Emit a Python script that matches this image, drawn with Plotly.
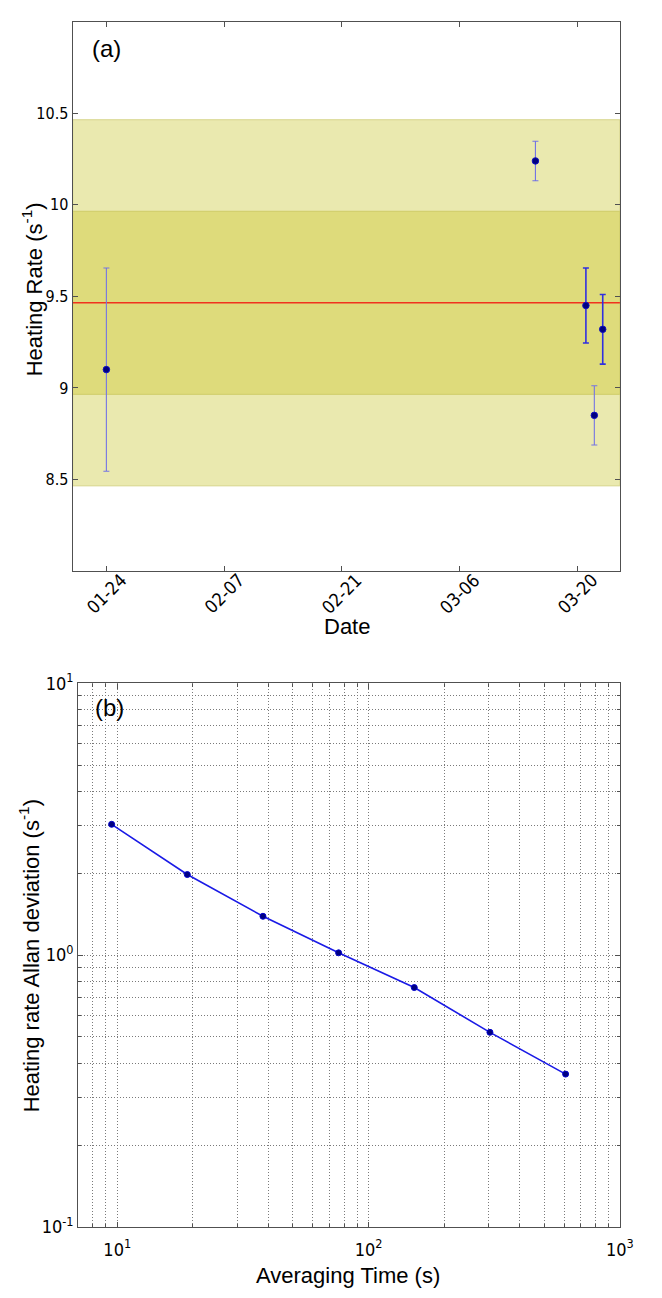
import numpy as np
import plotly.graph_objects as go

# ---- panel (a): heating rate measured on different days ----
meas_dates = ["2012-01-24", "2012-03-15", "2012-03-21", "2012-03-22", "2012-03-23"]
heating_rate = [9.10, 10.24, 9.45, 8.85, 9.32]
heating_err = [0.555, 0.108, 0.205, 0.162, 0.190]
mean_rate = 9.465
band_inner = 0.5
band_outer = 1.0
date_ticks = ["2012-01-24", "2012-02-07", "2012-02-21", "2012-03-06", "2012-03-20"]
date_labels = ["01-24", "02-07", "02-21", "03-06", "03-20"]
rate_ticks = [8.5, 9, 9.5, 10, 10.5]
rate_tick_text = ["8.5", "9", "9.5", "10", "10.5"]

# ---- panel (b): Allan deviation of the heating rate ----
avg_time = [9.5, 19, 38, 76, 152, 304, 608]
allan_dev = [3.03, 1.98, 1.39, 1.02, 0.76, 0.52, 0.365]
time_decades = [1, 2, 3]
dev_decades = [-1, 0, 1]

# darker, heavier error bars for the later run
heavy_bar = [False, False, True, False, True]

NARROW = "Liberation Sans Narrow, DejaVu Sans Condensed, Liberation Sans, Arial"
TICK_FONT = dict(family=NARROW, size=16, color="black")
LOG_TICK_FONT = dict(family=NARROW, size=18, color="black")
DATE_FONT = dict(family=NARROW, size=18, color="black")
TITLE_FONT = dict(family="Liberation Sans, Arial", size=22, color="black")
FRAME = "#505050"
GRID = "#7a7a7a"

W, H = 662, 1298

def px_x(p):
    return p / W

def px_y(p):
    return 1 - p / H

fig = go.Figure()

# confidence bands and the mean line
fig.add_shape(type="rect", xref="x domain", yref="y", x0=0, x1=1,
              y0=mean_rate - band_outer, y1=mean_rate + band_outer,
              fillcolor="#EAE9AF", line=dict(color="#D6D48A", width=1), layer="below")
fig.add_shape(type="rect", xref="x domain", yref="y", x0=0, x1=1,
              y0=mean_rate - band_inner, y1=mean_rate + band_inner,
              fillcolor="#DEDB7B", line=dict(color="#CFCC68", width=1), layer="below")
fig.add_shape(type="line", xref="x domain", yref="y", x0=0, x1=1,
              y0=mean_rate, y1=mean_rate,
              line=dict(color="#F0321E", width=1.6), layer="below")

for heavy in (False, True):
    idx = [i for i, h in enumerate(heavy_bar) if h == heavy]
    fig.add_trace(go.Scatter(
        x=[meas_dates[i] for i in idx],
        y=[heating_rate[i] for i in idx],
        mode="markers",
        marker=dict(size=6.5, color="#000080", line=dict(color="#1010c0", width=1)),
        error_y=dict(type="data", array=[heating_err[i] for i in idx], visible=True,
                     color="#2f2fe0" if heavy else "#7474e4",
                     thickness=1.6 if heavy else 1.1, width=3),
        xaxis="x", yaxis="y", showlegend=False,
    ))

fig.add_trace(go.Scatter(
    x=avg_time, y=allan_dev, mode="lines+markers",
    line=dict(color="#1a1ae6", width=1.6),
    marker=dict(size=6, color="#000080", line=dict(color="#0000cc", width=1)),
    xaxis="x2", yaxis="y2", showlegend=False,
))

def decade_labels(exps):
    return [10.0 ** e for e in exps], [f"10<sup>{e}</sup>" for e in exps]

def in_between(exps):
    # 2..9 times each decade below the last one
    return [m * 10.0 ** e for e in exps[:-1] for m in range(2, 10)]

xv, xt = decade_labels(time_decades)
x_minor = [8.0, 9.0] + in_between(time_decades)
yv, yt = decade_labels(dev_decades)
y_minor = in_between(dev_decades)

common = dict(showline=True, linecolor=FRAME, linewidth=1.3, mirror="ticks",
              ticks="inside", ticklen=5, tickcolor=FRAME, zeroline=False)
grid = dict(showgrid=True, gridcolor=GRID, griddash="1px,2px", gridwidth=1)

fig.update_layout(
    width=W, height=H,
    margin=dict(l=0, r=0, t=0, b=0),
    paper_bgcolor="white", plot_bgcolor="white",
    xaxis=dict(domain=[px_x(74.3), px_x(633.3)], anchor="y", type="date",
               range=["2012-01-20", "2012-03-25 01:00"], tickfont=TICK_FONT,
               tickvals=date_ticks, showticklabels=False, showgrid=False, **common),
    yaxis=dict(domain=[px_y(568), px_y(9)], anchor="x", range=[8, 11], tickfont=TICK_FONT,
               tickvals=rate_ticks, ticktext=rate_tick_text, showgrid=False, **common),
    xaxis2=dict(domain=[px_x(80), px_x(633.3)], anchor="y2", type="log",
                range=[np.log10(7), 3], tickvals=xv, ticktext=xt, ticklabelstandoff=6,
                tickfont=LOG_TICK_FONT,
                minor=dict(tickvals=x_minor, ticks="inside", ticklen=3, tickcolor=FRAME, **grid),
                **grid, **common),
    yaxis2=dict(domain=[px_y(1235.8), px_y(682.5)], anchor="x2", type="log",
                range=[-1, 1], tickvals=yv, ticktext=yt, tickfont=LOG_TICK_FONT,
                minor=dict(tickvals=y_minor, ticks="inside", ticklen=3, tickcolor=FRAME, **grid),
                **grid, **common),
)

# rotated date labels, centred under each tick
for d, lab in zip(date_ticks, date_labels):
    fig.add_annotation(x=d, xref="x", y=px_y(591), yref="paper", text=lab,
                       textangle=-45, showarrow=False, xanchor="center", yanchor="middle",
                       font=DATE_FONT)

# panel tags
fig.add_annotation(x=0.032, xref="x domain", y=0.952, yref="y domain", text="(a)",
                   showarrow=False, xanchor="left", yanchor="middle",
                   font=dict(family="Liberation Sans, Arial", size=24, color="black"))
fig.add_annotation(x=0.027, xref="x2 domain", y=0.956, yref="y2 domain", text="(b)",
                   showarrow=False, xanchor="left", yanchor="middle",
                   font=dict(family="Liberation Sans, Arial", size=24, color="black"))

# axis titles
fig.add_annotation(x=px_x(33), xref="paper", y=px_y(281), yref="paper",
                   text="Heating Rate (s<sup>-1</sup>)", textangle=-90, showarrow=False,
                   xanchor="center", yanchor="middle", font=TITLE_FONT)
fig.add_annotation(x=px_x(354), xref="paper", y=px_y(625), yref="paper",
                   text="Date", showarrow=False, xanchor="center", yanchor="middle",
                   font=TITLE_FONT)
fig.add_annotation(x=px_x(30), xref="paper", y=px_y(960), yref="paper",
                   text="Heating rate Allan deviation (s<sup>-1</sup>)", textangle=-90,
                   showarrow=False, xanchor="center", yanchor="middle", font=TITLE_FONT)
fig.add_annotation(x=px_x(356), xref="paper", y=px_y(1285), yref="paper",
                   text="Averaging Time (s)", showarrow=False, xanchor="center",
                   yanchor="middle", font=TITLE_FONT)

fig.write_html("out.html")
